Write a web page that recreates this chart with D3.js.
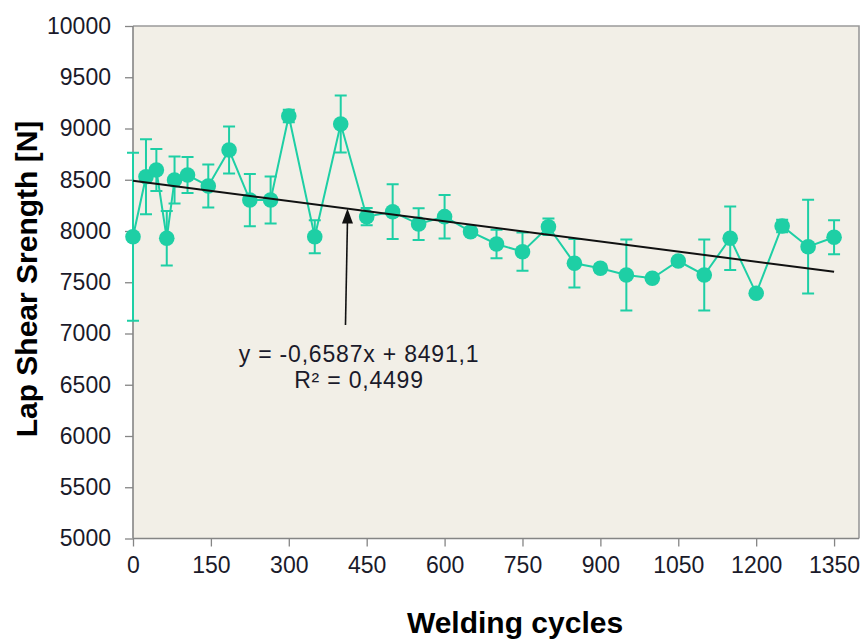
<!DOCTYPE html>
<html>
<head>
<meta charset="utf-8">
<script src="https://cdn.jsdelivr.net/npm/d3@7"></script>
<style>
  html, body { margin: 0; padding: 0; background: #ffffff; }
  svg { display: block; font-family: "Liberation Sans", Arial, sans-serif; }
</style>
</head>
<body>
<svg id="chart" width="863" height="639"></svg>
<script>
// Welding cycles at which lap shear samples were tested
const cycles = [0, 25, 45, 65, 80, 105, 145, 185, 225, 265, 300, 350, 400, 450, 500, 550,
                600, 650, 700, 750, 800, 850, 900, 950, 1000, 1050, 1100, 1150, 1200, 1250, 1300, 1350];
// Mean lap shear strength [N]
const strength = [7944, 8530, 8595, 7929, 8498, 8546, 8439, 8790, 8302, 8302, 9122, 7944, 9044, 8140, 8188, 8068,
                  8140, 7993, 7873, 7798, 8042, 7685, 7637, 7571, 7539, 7707, 7571, 7929, 7392, 8049, 7847, 7939];
// Standard deviation [N]
const deviation = [820, 366, 205, 265, 230, 175, 210, 230, 255, 230, 60, 160, 278, 85, 267, 155,
                   212, 0, 140, 187, 80, 237, 40, 346, 0, 0, 346, 310, 0, 60, 457, 166];

const xTicks = [0, 150, 300, 450, 600, 750, 900, 1050, 1200, 1350];
const yTicks = [5000, 5500, 6000, 6500, 7000, 7500, 8000, 8500, 9000, 9500, 10000];

// Linear regression reported on the chart
const slope = -0.6587;
const intercept = 8491.1;
const trendLabel = "y = -0,6587x + 8491,1";
const r2Label = "R\u00b2 = 0,4499";

const teal = "#1ecfa5";
const svg = d3.select("#chart");

const plotL = 133, plotR = 859, plotT = 26, plotB = 538.5;
const x = d3.scaleLinear().domain([0, 1398]).range([plotL, plotR]);
const y = d3.scaleLinear().domain([5000, 10000]).range([plotB, plotT]);

// plot area
svg.append("rect")
  .attr("x", plotL).attr("y", plotT)
  .attr("width", plotR - plotL).attr("height", plotB - plotT)
  .attr("fill", "#f2efe7");
svg.append("path")
  .attr("d", `M${plotL},${plotT}H${plotR}V${plotB}`)
  .attr("fill", "none").attr("stroke", "#9a9a9a").attr("stroke-width", 1.6);

// axes
const yAxis = svg.append("g")
  .attr("transform", `translate(${plotL},0)`)
  .call(d3.axisLeft(y).tickValues(yTicks).tickSize(8).tickPadding(14).tickFormat(d3.format("d")));
const xAxis = svg.append("g")
  .attr("transform", `translate(0,${plotB})`)
  .call(d3.axisBottom(x).tickValues(xTicks).tickSize(8).tickPadding(10).tickFormat(d3.format("d")));

[xAxis, yAxis].forEach(g => {
  g.select(".domain").attr("stroke", "#858585").attr("stroke-width", 1.6);
  g.selectAll(".tick line").attr("stroke", "#858585").attr("stroke-width", 1.3);
  g.selectAll(".tick text")
    .attr("fill", "#1a1a2a")
    .style("font-size", "23px")
    .style("font-family", "'Liberation Sans', Arial, sans-serif");
});
xAxis.select(".domain").attr("d", `M${plotL},0H${plotR}`);
yAxis.select(".domain").attr("d", `M0,${plotB}V${plotT}`);

// connecting line
const line = d3.line().x((d, i) => x(cycles[i])).y(d => y(d));
svg.append("path")
  .datum(strength)
  .attr("d", line)
  .attr("fill", "none")
  .attr("stroke", teal)
  .attr("stroke-width", 2);

// error bars
const capW = 6;
const err = svg.append("g").attr("stroke", teal).attr("stroke-width", 2).attr("fill", "none");
strength.forEach((v, i) => {
  const sd = deviation[i];
  if (!sd) return;
  const cx = x(cycles[i]);
  const y1 = y(v + sd), y0 = y(v - sd);
  err.append("path")
    .attr("d", `M${cx},${y1}V${y0}M${cx - capW},${y1}H${cx + capW}M${cx - capW},${y0}H${cx + capW}`);
});

// markers
svg.append("g").selectAll("circle")
  .data(strength)
  .join("circle")
  .attr("cx", (d, i) => x(cycles[i]))
  .attr("cy", d => y(d))
  .attr("r", 7.8)
  .attr("fill", teal);

// trend line
svg.append("line")
  .attr("x1", x(0)).attr("y1", y(intercept))
  .attr("x2", x(1350)).attr("y2", y(intercept + slope * 1350))
  .attr("stroke", "#111").attr("stroke-width", 2);

// arrow pointing to the trend line
const arrowX = 413;
const tipX = x(arrowX), tipY = y(intercept + slope * arrowX);
svg.append("line")
  .attr("x1", tipX - 2).attr("y1", 325)
  .attr("x2", tipX).attr("y2", tipY + 12)
  .attr("stroke", "#111").attr("stroke-width", 1.6);
svg.append("path")
  .attr("d", `M${tipX},${tipY}L${tipX - 5.5},${tipY + 15}L${tipX + 5.5},${tipY + 15}Z`)
  .attr("fill", "#111");

// regression equation
svg.append("text")
  .attr("x", 359).attr("y", 362)
  .attr("text-anchor", "middle")
  .style("font-size", "23px").style("letter-spacing", "0.8px")
  .attr("fill", "#1a1a2a")
  .text(trendLabel);
svg.append("text")
  .attr("x", 359).attr("y", 388)
  .attr("text-anchor", "middle")
  .style("font-size", "23px").style("letter-spacing", "0.8px")
  .attr("fill", "#1a1a2a")
  .text(r2Label);

// axis titles
svg.append("text")
  .attr("transform", "translate(37,279) rotate(-90)")
  .attr("text-anchor", "middle")
  .style("font-size", "30px").style("font-weight", "bold")
  .attr("fill", "#000")
  .text("Lap Shear Srength [N]");
svg.append("text")
  .attr("x", 515).attr("y", 633)
  .attr("text-anchor", "middle")
  .style("font-size", "30px").style("font-weight", "bold")
  .attr("fill", "#000")
  .text("Welding cycles");
</script>
</body>
</html>
